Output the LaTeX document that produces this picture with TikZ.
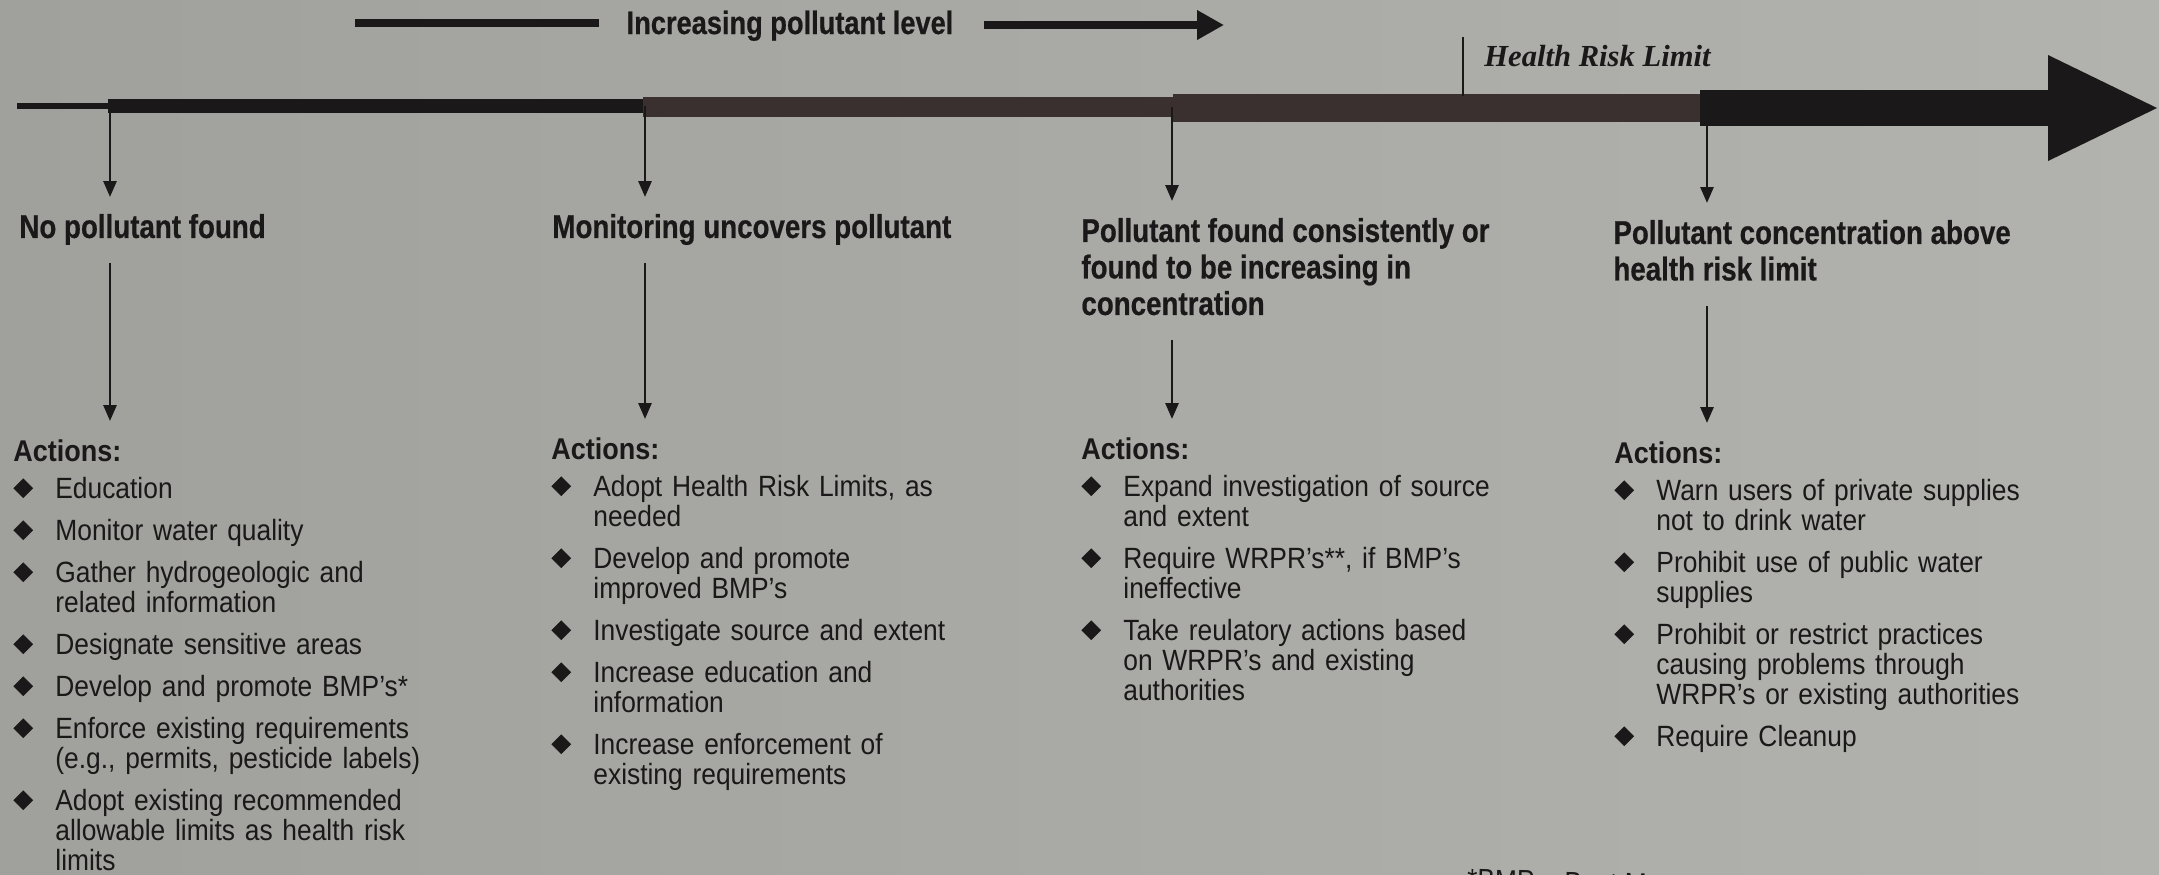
\documentclass[tikz,border=0pt]{standalone}
\usepackage{fontspec}
\usepackage{tikz}
\usetikzlibrary{arrows.meta, positioning, calc}

\newfontfamily\hdfont[FakeStretch=0.84, BoldFeatures={FakeBold=0.5}]{Liberation Sans}
\newfontfamily\txfont[FakeStretch=0.9]{Liberation Sans}
\newfontfamily\hrlfont{Liberation Serif}

\definecolor{paperL}{RGB}{160,160,156}
\definecolor{paperR}{RGB}{178,178,174}
\definecolor{ink}{RGB}{26,24,24}
\definecolor{barbrown}{RGB}{58,48,48}

% bullet and one action line
\newcommand{\dmd}{\rotatebox{45}{\rule{7pt}{7pt}}}
\newcommand{\act}[1]{\par\vspace{6pt}\noindent\hangindent=21pt\hangafter=1\strut\makebox[21pt][l]{\dmd}#1\par}
\newcommand{\acthead}{\setlength{\lineskiplimit}{-10pt}\noindent\strut{\bfseries\fontsize{15}{15}\selectfont Actions:}\par\vspace{-2.5pt}}

\begin{document}
\begin{tikzpicture}[
  x=0.5pt, y=-0.5pt,
  head/.style={anchor=north west, align=left, inner sep=0pt, text=ink,
               font=\hdfont\bfseries\fontsize{16.5}{18.25}\selectfont},
  actlist/.style={anchor=north west, text width=235pt, align=left, inner sep=0pt, text=ink,
                  font=\txfont\fontsize{14.65}{15}\selectfont},
  arrow/.style={-{Triangle[length=8pt,width=6.5pt]}, line width=1.4pt, draw=ink},
]
  \useasboundingbox (0,0) rectangle (2159,874);
  \clip (0,0) rectangle (2159,874);
  \shade[left color=paperL, right color=paperR] (0,0) rectangle (2159,874);

  % legend on top
  \node[inner sep=0pt, anchor=base, text=ink, font=\hdfont\bfseries\fontsize{16.2}{16.2}\selectfont]
    (lvl) at (790,34) {Increasing pollutant level};
  \coordinate (lvlL) at (355,23);
  \coordinate (lvlR) at (1224,25);
  \draw[ink, line width=4pt, shorten >=13.5pt] (lvlL) -- (lvl.west |- lvlL);
  \draw[ink, line width=4pt, shorten <=15pt, -{Triangle[length=13.5pt,width=14pt]}]
    (lvl.east |- lvlR) -- (lvlR);

  % main bar, getting thicker
  \fill[ink] (17,102.5) rectangle (108,108.5);
  \fill[ink] (108,98.5) rectangle (643,112.5);
  \fill[barbrown] (643,96.5) rectangle (1173,116.5);
  \fill[barbrown] (1173,94) rectangle (1700,122);
  \fill[ink] (1700,90) rectangle (2048,126);
  \fill[ink] (2048,55) -- (2157,108) -- (2048,161) -- cycle;

  \coordinate (t1) at (110,106);
  \coordinate (t2) at (645,106);
  \coordinate (t3) at (1172,107);
  \coordinate (t4) at (1707,108);

  % health risk limit mark
  \coordinate (hrltop) at (1463,37);
  \coordinate (hrlbot) at (1463,96);
  \draw[ink, line width=1pt] (hrltop) -- (hrlbot);
  \node[inner sep=0pt, anchor=base west, text=ink, font=\hrlfont\bfseries\itshape\fontsize{15.3}{15.3}\selectfont]
    (hrl) at (1484,66) {Health Risk Limit};

  % stages
  \node[head] (h1) at (19,212) {\strut No pollutant found};
  \node[head] (h2) at (552,212) {\strut Monitoring uncovers pollutant};
  \node[head] (h3) at (1081,216) {\strut Pollutant found consistently or\\found to be increasing in\\concentration\strut};
  \node[head] (h4) at (1613,218) {\strut Pollutant concentration above\\health risk limit\strut};

  % actions
  \node[actlist] (l1) at (13,439) {\acthead
    \act{Education}
    \act{Monitor water quality}
    \act{Gather hydrogeologic and\newline related information}
    \act{Designate sensitive areas}
    \act{Develop and promote BMP’s*}
    \act{Enforce existing requirements\newline (e.g., permits, pesticide labels)}
    \act{Adopt existing recommended\newline allowable limits as health risk\newline limits}};
  \node[actlist] (l2) at (551,437) {\acthead
    \act{Adopt Health Risk Limits, as\newline needed}
    \act{Develop and promote\newline improved BMP’s}
    \act{Investigate source and extent}
    \act{Increase education and\newline information}
    \act{Increase enforcement of\newline existing requirements}};
  \node[actlist] (l3) at (1081,437) {\acthead
    \act{Expand investigation of source\newline and extent}
    \act{Require WRPR’s**, if BMP’s\newline ineffective}
    \act{Take reulatory actions based\newline on WRPR’s and existing\newline authorities}};
  \node[actlist] (l4) at (1614,441) {\acthead
    \act{Warn users of private supplies\newline not to drink water}
    \act{Prohibit use of public water\newline supplies}
    \act{Prohibit or restrict practices\newline causing problems through\newline WRPR’s or existing authorities}
    \act{Require Cleanup}};

  \node[inner sep=0pt, anchor=north west, rotate=-1.5, text=ink, font=\txfont\fontsize{14.65}{15}\selectfont]
    (fn) at (1467,868) {*BMP = Best Management Practices};

  \foreach \i in {1,...,4} {
    \draw[arrow, shorten >=7.5pt] (t\i) -- (h\i.north -| t\i);
    \draw[arrow, shorten <=7pt, shorten >=9pt] (h\i.south -| t\i) -- (l\i.north -| t\i);
  }
\end{tikzpicture}
\end{document}
